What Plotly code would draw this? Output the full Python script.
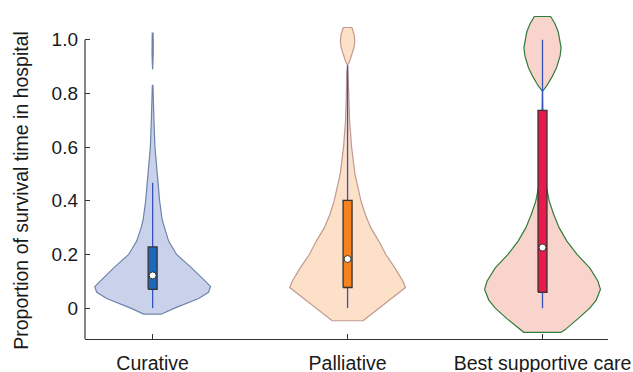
import plotly.graph_objects as go

categories = ["Curative", "Palliative", "Best supportive care"]

# Kernel density profiles (relative units) sampled along the y axis
curative_y = [-0.022, 0.0, 0.036, 0.059, 0.08, 0.1, 0.15, 0.2, 0.25, 0.3, 0.33,
              0.4, 0.5, 0.6, 0.7, 0.8, 0.83]
curative_density = [9, 22, 46, 56, 58, 53, 39, 24, 16, 11.5, 9.5,
                    7, 4.3, 2.3, 1.3, 0.7, 0.3]
# isolated upper tail of the curative group
curative_tail_y = [0.89, 0.92, 0.95, 1.0, 1.025]
curative_tail_density = [0.0, 0.4, 0.6, 0.6, 0.4]

palliative_y = [-0.047, 0.077, 0.1, 0.15, 0.2, 0.25, 0.3, 0.35, 0.4, 0.5, 0.6,
                0.7, 0.8, 0.88, 0.905, 0.92, 0.945, 0.97, 0.994, 1.019, 1.046]
palliative_density = [15.3, 57.5, 55, 47, 38, 31, 23, 17.5, 13.3, 7.3, 4,
                      2, 1.2, 0.8, 0.0, 2, 4.3, 6.3, 7.2, 6.5, 4.3]

bsc_y = [-0.09, -0.08, -0.04, 0.0, 0.03, 0.07, 0.1, 0.15, 0.2, 0.25, 0.3, 0.35,
         0.4, 0.45, 0.5, 0.6, 0.7, 0.808, 0.83, 0.86, 0.895, 0.94, 0.97, 1.0,
         1.03, 1.06, 1.087]
bsc_density = [18.8, 22.8, 35.5, 47.5, 54, 58.2, 55.8, 47.5, 34.7, 24.5, 16.7, 11.2,
               6.7, 4, 2.5, 1, 0.4, 0.0, 4.5, 9.3, 14, 17.7, 18.7, 17.5,
               15.8, 12.5, 8.2]

# Box-plot summary statistics per group
q1 = [0.070, 0.077, 0.059]
median = [0.122, 0.183, 0.226]
q3 = [0.228, 0.402, 0.737]
whisker_low = [0.0, 0.0, 0.0]
whisker_high = [0.467, 0.905, 1.0]

# Styling
violin_fill = ["#c9d2ea", "#fde0c8", "#f9d4cc"]
violin_line = ["#6d84aa", "#c09a90", "#2f7d3c"]
box_fill = ["#1c69bb", "#f5821f", "#e8194b"]
whisker_color = "#3553c0"
edge_color = "#333333"
half_width = 0.297   # widest point of each violin, in x-axis units
box_half = 0.023
FONT = "Liberation Sans, Arial, Helvetica, sans-serif"


def violin_outline(pos, ys, dens, scale):
    xs = [pos + d * scale for d in dens] + [pos - d * scale for d in reversed(dens)]
    yy = list(ys) + list(reversed(ys))
    return xs + [xs[0]], yy + [yy[0]]


fig = go.Figure()

profiles = [
    [(curative_y, curative_density), (curative_tail_y, curative_tail_density)],
    [(palliative_y, palliative_density)],
    [(bsc_y, bsc_density)],
]

for i, parts in enumerate(profiles):
    pos = i + 1
    scale = half_width / max(parts[0][1])
    for ys, dens in parts:
        xs, yy = violin_outline(pos, ys, dens, scale)
        fig.add_trace(go.Scatter(
            x=xs, y=yy, mode="lines", fill="toself",
            fillcolor=violin_fill[i],
            line=dict(color=violin_line[i], width=1.2),
            hoverinfo="skip", showlegend=False,
        ))

for i in range(3):
    pos = i + 1
    # whisker
    fig.add_trace(go.Scatter(
        x=[pos, pos], y=[whisker_low[i], whisker_high[i]], mode="lines",
        line=dict(color=whisker_color, width=1.3),
        hoverinfo="skip", showlegend=False,
    ))
    # interquartile box
    fig.add_trace(go.Scatter(
        x=[pos - box_half, pos + box_half, pos + box_half, pos - box_half, pos - box_half],
        y=[q1[i], q1[i], q3[i], q3[i], q1[i]],
        mode="lines", fill="toself", fillcolor=box_fill[i],
        line=dict(color=edge_color, width=1.3),
        hoverinfo="skip", showlegend=False,
    ))
    # median
    fig.add_trace(go.Scatter(
        x=[pos], y=[median[i]], mode="markers",
        marker=dict(color="white", size=7, line=dict(color=edge_color, width=1)),
        hoverinfo="skip", showlegend=False,
    ))

y_bottom, y_top = -0.115, 1.1

fig.update_layout(
    width=633, height=372,
    margin=dict(l=85, r=25, t=13, b=33),
    paper_bgcolor="white", plot_bgcolor="white",
    font=dict(family=FONT, size=19, color="#1a1a1a"),
    xaxis=dict(
        range=[0.653, 3.336], tickvals=[1, 2, 3], ticktext=categories,
        showgrid=False, zeroline=False, showline=True, automargin=False,
        linecolor=edge_color, linewidth=1.2,
        ticks="inside", ticklen=5, tickcolor=edge_color, tickwidth=1,
        tickfont=dict(size=19.5), ticklabelstandoff=6,
    ),
    yaxis=dict(
        range=[y_bottom, y_top], automargin=False,
        tickvals=[0, 0.2, 0.4, 0.6, 0.8, 1.0],
        ticktext=["0", "0.2", "0.4", "0.6", "0.8", "1.0"],
        showgrid=False, zeroline=False, showline=False,
        ticks="inside", ticklen=5, tickcolor=edge_color, tickwidth=1,
        tickfont=dict(size=19), ticklabelstandoff=6,
    ),
    shapes=[dict(
        type="line", xref="paper", yref="y", x0=0, x1=0, y0=y_bottom, y1=1.0,
        line=dict(color=edge_color, width=1.2),
    )],
    annotations=[dict(
        text="Proportion of survival time in hospital",
        xref="paper", yref="y", x=-0.123, y=0.44,
        textangle=-90, showarrow=False,
        font=dict(family=FONT, size=19.5, color="#1a1a1a"),
        xanchor="center", yanchor="middle",
    )],
)

fig.write_html("out.html")
